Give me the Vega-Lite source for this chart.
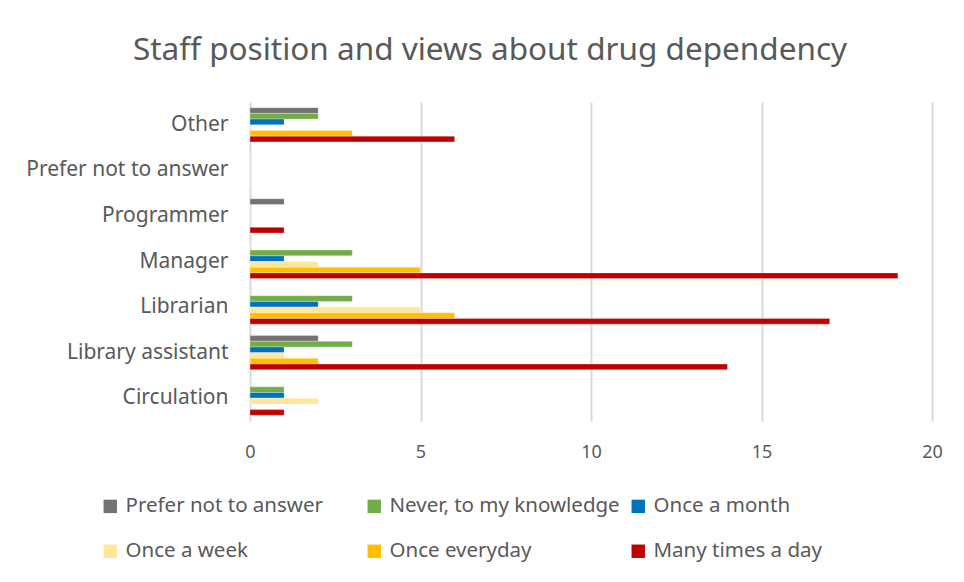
{
  "$schema": "https://vega.github.io/schema/vega-lite/v6.json",
  "width": 682,
  "height": 319,
  "autosize": "none",
  "padding": {"left": 250, "top": 102, "right": 32, "bottom": 161},
  "background": "white",
  "title": {
    "text": "Staff position and views about drug dependency",
    "fontSize": 31.5,
    "font": "Noto Sans",
    "fontWeight": "normal",
    "color": "#595959",
    "anchor": "middle",
    "dx": -101,
    "offset": 36
  },
  "data": {
    "values": [
      {"pos": "Other", "freq": "Prefer not to answer", "n": 2},
      {"pos": "Other", "freq": "Never, to my knowledge", "n": 2},
      {"pos": "Other", "freq": "Once a month", "n": 1},
      {"pos": "Other", "freq": "Once a week", "n": 0},
      {"pos": "Other", "freq": "Once everyday", "n": 3},
      {"pos": "Other", "freq": "Many times a day", "n": 6},
      {"pos": "Prefer not to answer", "freq": "Prefer not to answer", "n": 0},
      {"pos": "Prefer not to answer", "freq": "Never, to my knowledge", "n": 0},
      {"pos": "Prefer not to answer", "freq": "Once a month", "n": 0},
      {"pos": "Prefer not to answer", "freq": "Once a week", "n": 0},
      {"pos": "Prefer not to answer", "freq": "Once everyday", "n": 0},
      {"pos": "Prefer not to answer", "freq": "Many times a day", "n": 0},
      {"pos": "Programmer", "freq": "Prefer not to answer", "n": 1},
      {"pos": "Programmer", "freq": "Never, to my knowledge", "n": 0},
      {"pos": "Programmer", "freq": "Once a month", "n": 0},
      {"pos": "Programmer", "freq": "Once a week", "n": 0},
      {"pos": "Programmer", "freq": "Once everyday", "n": 0},
      {"pos": "Programmer", "freq": "Many times a day", "n": 1},
      {"pos": "Manager", "freq": "Prefer not to answer", "n": 0},
      {"pos": "Manager", "freq": "Never, to my knowledge", "n": 3},
      {"pos": "Manager", "freq": "Once a month", "n": 1},
      {"pos": "Manager", "freq": "Once a week", "n": 2},
      {"pos": "Manager", "freq": "Once everyday", "n": 5},
      {"pos": "Manager", "freq": "Many times a day", "n": 19},
      {"pos": "Librarian", "freq": "Prefer not to answer", "n": 0},
      {"pos": "Librarian", "freq": "Never, to my knowledge", "n": 3},
      {"pos": "Librarian", "freq": "Once a month", "n": 2},
      {"pos": "Librarian", "freq": "Once a week", "n": 5},
      {"pos": "Librarian", "freq": "Once everyday", "n": 6},
      {"pos": "Librarian", "freq": "Many times a day", "n": 17},
      {"pos": "Library assistant", "freq": "Prefer not to answer", "n": 2},
      {"pos": "Library assistant", "freq": "Never, to my knowledge", "n": 3},
      {"pos": "Library assistant", "freq": "Once a month", "n": 1},
      {"pos": "Library assistant", "freq": "Once a week", "n": 1},
      {"pos": "Library assistant", "freq": "Once everyday", "n": 2},
      {"pos": "Library assistant", "freq": "Many times a day", "n": 14},
      {"pos": "Circulation", "freq": "Prefer not to answer", "n": 0},
      {"pos": "Circulation", "freq": "Never, to my knowledge", "n": 1},
      {"pos": "Circulation", "freq": "Once a month", "n": 1},
      {"pos": "Circulation", "freq": "Once a week", "n": 2},
      {"pos": "Circulation", "freq": "Once everyday", "n": 0},
      {"pos": "Circulation", "freq": "Many times a day", "n": 1}
    ]
  },
  "mark": {"type": "bar", "stroke": "white", "strokeWidth": 0.5, "strokeOpacity": 0.6},
  "encoding": {
    "y": {
      "field": "pos",
      "type": "nominal",
      "sort": ["Other", "Prefer not to answer", "Programmer", "Manager", "Librarian", "Library assistant", "Circulation"],
      "scale": {"paddingInner": 0.25, "paddingOuter": 0.125},
      "axis": {
        "title": null,
        "domain": false,
        "ticks": false,
        "labelFontSize": 21,
        "labelFont": "Noto Sans",
        "labelColor": "#595959",
        "labelPadding": 22,
        "labelLimit": 300
      }
    },
    "yOffset": {
      "field": "freq",
      "type": "nominal",
      "sort": ["Prefer not to answer", "Never, to my knowledge", "Once a month", "Once a week", "Once everyday", "Many times a day"],
      "scale": {"paddingInner": 0, "paddingOuter": 0}
    },
    "x": {
      "field": "n",
      "type": "quantitative",
      "scale": {"domain": [0, 20], "nice": false},
      "axis": {
        "title": null,
        "values": [0, 5, 10, 15, 20],
        "domain": false,
        "ticks": false,
        "grid": true,
        "gridColor": "#D9D9D9",
        "gridWidth": 2,
        "labelFlush": false,
        "labelFontSize": 18,
        "labelFont": "Noto Sans",
        "labelColor": "#595959",
        "labelPadding": 22
      }
    },
    "color": {
      "field": "freq",
      "type": "nominal",
      "sort": ["Prefer not to answer", "Never, to my knowledge", "Once a month", "Once a week", "Once everyday", "Many times a day"],
      "scale": {
        "domain": ["Prefer not to answer", "Never, to my knowledge", "Once a month", "Once a week", "Once everyday", "Many times a day"],
        "range": ["#767171", "#70AD47", "#0070C0", "#FFE699", "#FFC000", "#C00000"]
      },
      "legend": {
        "title": null,
        "orient": "none",
        "legendX": -150,
        "legendY": 394,
        "direction": "horizontal",
        "columns": 3,
        "gridAlign": "all",
        "symbolType": "square",
        "symbolSize": 180,
        "symbolStrokeWidth": 0,
        "symbolOpacity": 1,
        "labelFontSize": 20.5,
        "labelFont": "Noto Sans",
        "labelColor": "#595959",
        "labelLimit": 300,
        "labelOffset": 5,
        "columnPadding": 8,
        "rowPadding": 24
      }
    }
  },
  "config": {"view": {"stroke": null}}
}
